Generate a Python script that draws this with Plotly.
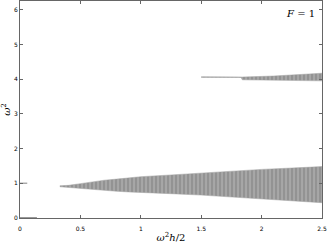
import plotly.graph_objects as go

# Lower band: x samples and band edges (omega^2)
low_x = [0.33, 0.4, 0.5, 0.6, 0.7, 0.8, 0.9, 1.0, 1.25, 1.5, 1.75, 2.0, 2.25, 2.5]
low_lo = [0.90, 0.88, 0.84, 0.81, 0.79, 0.77, 0.75, 0.74, 0.70, 0.66, 0.61, 0.55, 0.50, 0.44]
low_hi = [0.93, 0.94, 0.99, 1.05, 1.09, 1.12, 1.16, 1.19, 1.24, 1.30, 1.36, 1.40, 1.44, 1.48]

# Upper band
up_x = [1.5, 1.83, 1.84, 2.1, 2.3, 2.5]
up_lo = [4.05, 4.05, 3.98, 3.97, 3.96, 3.95]
up_hi = [4.07, 4.07, 4.06, 4.09, 4.12, 4.17]

# Short stubs near x = 0
stub_y = [1.0, 0.0]
stub_x0 = [0.0, 0.0]
stub_x1 = [0.06, 0.14]
stub_col = ["#aaaaaa", "#777777"]

x_ticks = [0, 0.5, 1, 1.5, 2, 2.5]
x_labels = ["0", "0.5", "1", "1.5", "2", "2.5"]
y_ticks = [0, 1, 2, 3, 4, 5, 6]
y_labels = ["0", "1", "2", "3", "4", "5", "6"]

fig = go.Figure()

def band(xs, lo, hi):
    fig.add_trace(go.Scatter(x=xs, y=lo, mode="lines", line=dict(color="#a0a0a0", width=0.5),
                             showlegend=False, hoverinfo="skip"))
    fig.add_trace(go.Scatter(x=xs, y=hi, mode="lines", line=dict(color="#a0a0a0", width=0.5),
                             fill="tonexty", fillcolor="#959595",
                             fillpattern=dict(shape="|", fgcolor="#f2f2f2", bgcolor="#939393",
                                              size=4, solidity=0.2),
                             showlegend=False, hoverinfo="skip"))

band(low_x, low_lo, low_hi)
band(up_x, up_lo, up_hi)

for y, a, b, c in zip(stub_y, stub_x0, stub_x1, stub_col):
    fig.add_trace(go.Scatter(x=[a, b], y=[y, y], mode="lines", line=dict(color=c, width=1.5),
                             showlegend=False, hoverinfo="skip"))

axis_common = dict(showgrid=False, zeroline=False, showline=True, linecolor="#666666",
                   linewidth=1, mirror="ticks", ticks="inside", ticklen=3, tickcolor="#666666",
                   automargin=False,
                   tickfont=dict(family="DejaVu Sans", size=6, color="#000000"))

fig.update_layout(
    width=327, height=247,
    margin=dict(l=20, r=5, t=1, b=29),
    paper_bgcolor="white", plot_bgcolor="white",
    xaxis=dict(range=[0, 2.5], tickvals=x_ticks, ticktext=x_labels, ticklabelstandoff=5,
               title=dict(text="<i>ω</i><sup>2</sup><i>h</i>/2", standoff=2,
                          font=dict(family="DejaVu Serif", size=10, color="#000")),
               **axis_common),
    yaxis=dict(range=[0, 6.25], tickvals=y_ticks, ticktext=y_labels,
               title=dict(text="<i>ω</i><sup>2</sup>", standoff=2,
                          font=dict(family="DejaVu Serif", size=10, color="#000")),
               **axis_common),
    annotations=[dict(text="<i>F</i> = 1", x=0.985, y=0.975, xref="paper", yref="paper",
                      xanchor="right", yanchor="top", showarrow=False,
                      font=dict(family="DejaVu Serif", size=10, color="#000"))],
)

fig.write_html("out.html", config={"displayModeBar": False},
               post_script="document.body.style.margin='0';document.body.style.overflow='hidden';")
